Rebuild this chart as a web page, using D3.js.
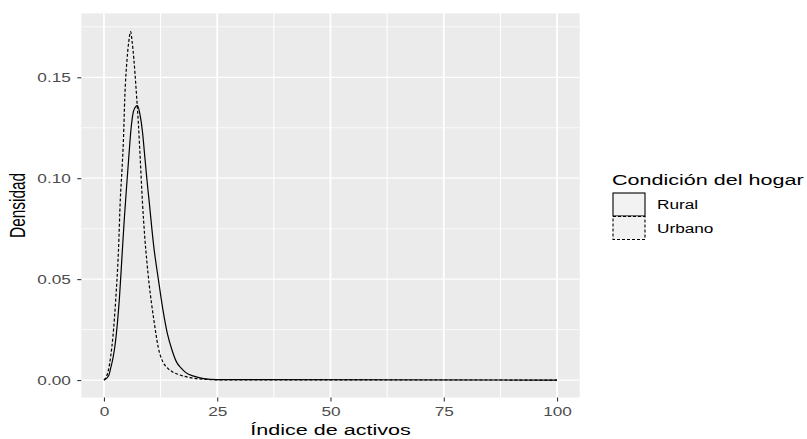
<!DOCTYPE html>
<html>
<head>
<meta charset="utf-8">
<script src="https://cdn.jsdelivr.net/npm/d3@7"></script>
<style>
	body { margin: 0; background: #fff; }
	svg { display: block; }
	text { font-family: 'Liberation Sans', Arial, sans-serif; }
</style>
</head>
<body>
<div id="chart"></div>
<script>
// density curves
var ruralX = [0, 1, 1.5, 2, 2.4, 3, 3.4, 4, 4.5, 5, 5.5, 6, 6.5, 7, 7.4, 8, 8.5, 9, 9.5, 10, 11, 12, 13, 14, 15, 16, 17, 18, 20, 22, 25, 100];
var ruralY = [0, 0.002, 0.006, 0.011, 0.0165, 0.029, 0.040, 0.062, 0.080, 0.096, 0.111, 0.125, 0.133, 0.1355, 0.136, 0.131, 0.123, 0.111, 0.099, 0.088, 0.066, 0.050, 0.035, 0.023, 0.015, 0.009, 0.006, 0.0038, 0.0018, 0.0007, 0.0002, 0];

var urbanX = [0, 0.5, 1, 1.5, 2, 2.6, 3.2, 3.6, 4, 4.3, 4.6, 5.1, 5.5, 5.9, 6.2, 6.6, 7.1, 7.6, 8, 8.5, 9, 9.5, 10, 10.5, 11, 12, 13, 14, 15, 16.8, 19, 22, 25, 100];
var urbanY = [0, 0.0015, 0.005, 0.012, 0.022, 0.040, 0.064, 0.089, 0.105, 0.119, 0.140, 0.159, 0.168, 0.1726, 0.168, 0.159, 0.144, 0.127, 0.110, 0.088, 0.071, 0.058, 0.047, 0.038, 0.030, 0.016, 0.009, 0.006, 0.0042, 0.0025, 0.0012, 0.0004, 0.0001, 0];

var seriesNames = ['Rural', 'Urbano'];
var xTicks = [0, 25, 50, 75, 100];
var xMinor = [12.5, 37.5, 62.5, 87.5];
var yTicks = [0, 0.05, 0.10, 0.15];
var yMinor = [0.025, 0.075, 0.125, 0.175];

var xTitle = 'Índice de activos';
var yTitle = 'Densidad';
var legendTitle = 'Condición del hogar';

// the picture is stretched sideways, so text is too
var stretch = 1.4;
var width = 807;
var height = 439;
var panel = { left: 81.3, right: 579.7, top: 13.4, bottom: 397.5 };
var dashes = { 'Rural': null, 'Urbano': '3,2' };

var svg = d3.select('#chart').append('svg')
	.attr('width', width)
	.attr('height', height);

var x = d3.scaleLinear()
	.domain([-5, 105])
	.range([panel.left, panel.right]);

var y = d3.scaleLinear()
	.domain([-0.00865, 0.18165])
	.range([panel.bottom, panel.top]);

// panel & grid
svg.append('rect')
	.attr('x', panel.left)
	.attr('y', panel.top)
	.attr('width', panel.right - panel.left)
	.attr('height', panel.bottom - panel.top)
	.attr('fill', '#ebebeb');

var grid = svg.append('g').attr('stroke', '#fff');

grid.selectAll('.ymin').data(yMinor).enter().append('line')
	.attr('x1', panel.left).attr('x2', panel.right)
	.attr('y1', function(d) { return y(d); })
	.attr('y2', function(d) { return y(d); })
	.attr('stroke-width', 0.7);

grid.selectAll('.xmin').data(xMinor).enter().append('line')
	.attr('y1', panel.top).attr('y2', panel.bottom)
	.attr('x1', function(d) { return x(d); })
	.attr('x2', function(d) { return x(d); })
	.attr('stroke-width', 1);

grid.selectAll('.ymaj').data(yTicks).enter().append('line')
	.attr('x1', panel.left).attr('x2', panel.right)
	.attr('y1', function(d) { return y(d); })
	.attr('y2', function(d) { return y(d); })
	.attr('stroke-width', 1.3);

grid.selectAll('.xmaj').data(xTicks).enter().append('line')
	.attr('y1', panel.top).attr('y2', panel.bottom)
	.attr('x1', function(d) { return x(d); })
	.attr('x2', function(d) { return x(d); })
	.attr('stroke-width', 1.8);

// curves
var line = d3.line()
	.x(function(d) { return x(d[0]); })
	.y(function(d) { return y(d[1]); })
	.curve(d3.curveMonotoneX);

var curves = {
	'Rural': d3.zip(ruralX, ruralY),
	'Urbano': d3.zip(urbanX, urbanY)
};

seriesNames.forEach(function(name) {
	svg.append('path')
		.datum(curves[name])
		.attr('fill', 'none')
		.attr('stroke', '#000')
		.attr('stroke-width', 1.2)
		.attr('stroke-dasharray', dashes[name])
		.attr('d', line);
});

// axes
var xAxis = d3.axisBottom(x)
	.tickValues(xTicks)
	.tickSize(4)
	.tickFormat(d3.format('d'));

var yAxis = d3.axisLeft(y)
	.tickValues(yTicks)
	.tickSize(4)
	.tickFormat(d3.format('.2f'));

var gx = svg.append('g')
	.attr('transform', 'translate(0,' + panel.bottom + ')')
	.call(xAxis);

var gy = svg.append('g')
	.attr('transform', 'translate(' + panel.left + ',0)')
	.call(yAxis);

[gx, gy].forEach(function(g) {
	g.select('.domain').remove();
	g.selectAll('.tick line').attr('stroke', '#333').attr('stroke-width', 1.1);
	g.selectAll('.tick text')
		.attr('fill', '#4d4d4d')
		.style('font-size', '12.3px');
});

gx.selectAll('.tick text')
	.attr('y', 19)
	.attr('dy', 0)
	.attr('transform', 'scale(' + stretch + ',1)');

gy.selectAll('.tick text')
	.attr('x', -10.5 / stretch)
	.attr('dy', '0.36em')
	.attr('transform', 'scale(' + stretch + ',1)');

// titles
function addText(px, py, str, size, anchor, rotate) {
	return svg.append('text')
		.attr('transform', 'translate(' + px + ',' + py + ') scale(' + stretch + ',1)' + (rotate ? ' rotate(-90)' : ''))
		.style('font-size', size + 'px')
		.style('text-anchor', anchor)
		.attr('fill', '#000')
		.text(str);
}

addText((panel.left + panel.right) / 2, 434.5, xTitle, 15.4, 'middle');
addText(24.5, (panel.top + panel.bottom) / 2, yTitle, 15.4, 'middle', true);

// legend
addText(612, 185, legendTitle, 15.4, 'start');

var legend = svg.append('g')
	.attr('transform', 'translate(613,193)');

var keys = legend.selectAll('g')
	.data(seriesNames)
	.enter().append('g')
	.attr('transform', function(d, i) { return 'translate(0,' + (i * 23.5) + ')'; });

keys.append('rect')
	.attr('width', 32)
	.attr('height', 23)
	.attr('fill', '#f2f2f2')
	.attr('stroke', '#000')
	.attr('stroke-width', 1.1)
	.attr('stroke-dasharray', function(d) { return dashes[d]; });

keys.append('text')
	.attr('transform', 'translate(44,16) scale(' + stretch + ',1)')
	.style('font-size', '12.3px')
	.attr('fill', '#000')
	.text(function(d) { return d; });
</script>
</body>
</html>
